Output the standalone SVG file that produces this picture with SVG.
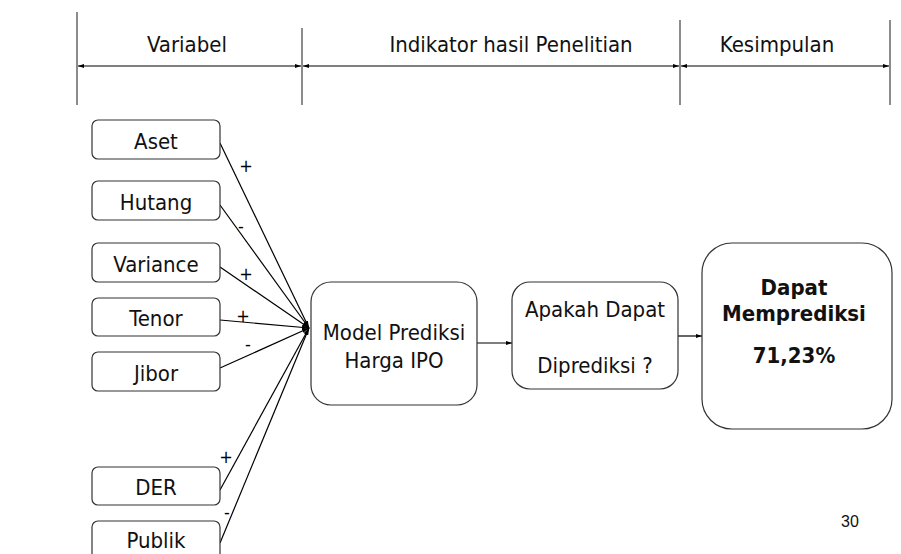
<svg xmlns="http://www.w3.org/2000/svg" width="901" height="554" viewBox="0 0 901 554">
<defs>
<style>
.t{font-family:"DejaVu Sans Condensed","DejaVu Sans",sans-serif;font-stretch:condensed;fill:#111;text-anchor:middle}
.h{font-size:22px}
.n{font-size:22px}
.b{font-family:"DejaVu Sans Condensed","DejaVu Sans",sans-serif;font-stretch:condensed;font-weight:bold;fill:#111;text-anchor:middle;font-size:22px}
.box{fill:#fff;stroke:#333;stroke-width:1.2}
.ln{stroke:#000;stroke-width:1.2;fill:none}
.vl{stroke:#666;stroke-width:1.5}
.sg{font-family:"DejaVu Sans Condensed","DejaVu Sans",sans-serif;font-size:18px;fill:#000;text-anchor:middle}
</style>
<marker id="ah" viewBox="0 0 10 10" refX="10" refY="5" markerWidth="6" markerHeight="6" orient="auto-start-reverse" markerUnits="userSpaceOnUse">
<path d="M0,1.5 L10,5 L0,8.5 z" fill="#000"/>
</marker>
<marker id="ah2" viewBox="0 0 10 10" refX="10" refY="5" markerWidth="7" markerHeight="7" orient="auto" markerUnits="userSpaceOnUse">
<path d="M0,2 L10,5 L0,8 z" fill="#000"/>
</marker>
</defs>
<rect width="901" height="554" fill="#fff"/>
<g id="header">
<line class="vl" x1="77" y1="12" x2="77" y2="105"/>
<line class="vl" x1="302" y1="28" x2="302" y2="105"/>
<line class="vl" x1="680" y1="20" x2="680" y2="105"/>
<line class="vl" x1="890" y1="20" x2="890" y2="105"/>
<line class="ln" x1="78" y1="66" x2="301" y2="66" marker-start="url(#ah)" marker-end="url(#ah)"/>
<line class="ln" x1="303" y1="66" x2="679" y2="66" marker-start="url(#ah)" marker-end="url(#ah)"/>
<line class="ln" x1="681" y1="66" x2="889" y2="66" marker-start="url(#ah)" marker-end="url(#ah)"/>
<text class="t h" x="187" y="52">Variabel</text>
<text class="t h" x="511" y="52">Indikator hasil Penelitian</text>
<text class="t h" x="777" y="52">Kesimpulan</text>
</g>
<g id="connectors">
<line class="ln" x1="220" y1="143" x2="309" y2="328" marker-end="url(#ah2)"/>
<line class="ln" x1="220" y1="205" x2="309" y2="328" marker-end="url(#ah2)"/>
<line class="ln" x1="220" y1="267" x2="309" y2="328" marker-end="url(#ah2)"/>
<line class="ln" x1="220" y1="320" x2="309" y2="328" marker-end="url(#ah2)"/>
<line class="ln" x1="220" y1="368" x2="309" y2="328" marker-end="url(#ah2)"/>
<line class="ln" x1="220" y1="490" x2="309" y2="328" marker-end="url(#ah2)"/>
<line class="ln" x1="220" y1="543" x2="309" y2="328" marker-end="url(#ah2)"/>
<line class="ln" x1="477" y1="343" x2="512" y2="343" marker-end="url(#ah)"/>
<line class="ln" x1="678" y1="336" x2="702" y2="336" marker-end="url(#ah)"/>
<text class="sg" x="246" y="172">+</text>
<text class="sg" x="241" y="232">-</text>
<text class="sg" x="246" y="280">+</text>
<text class="sg" x="243" y="322">+</text>
<text class="sg" x="248" y="350">-</text>
<text class="sg" x="226" y="463">+</text>
<text class="sg" x="227" y="518">-</text>
</g>
<g id="aset"><rect class="box" x="92" y="120" width="128" height="39" rx="6"/><text class="t n" x="156" y="149">Aset</text></g>
<g id="hutang"><rect class="box" x="92" y="181" width="128" height="39" rx="6"/><text class="t n" x="156" y="210">Hutang</text></g>
<g id="variance"><rect class="box" x="92" y="243" width="128" height="39" rx="6"/><text class="t n" x="156" y="272">Variance</text></g>
<g id="tenor"><rect class="box" x="92" y="298" width="128" height="38" rx="6"/><text class="t n" x="156" y="326">Tenor</text></g>
<g id="jibor"><rect class="box" x="92" y="352" width="128" height="39" rx="6"/><text class="t n" x="156" y="381">Jibor</text></g>
<g id="der"><rect class="box" x="92" y="467" width="128" height="38" rx="6"/><text class="t n" x="156" y="495">DER</text></g>
<g id="publik"><rect class="box" x="92" y="521" width="128" height="40" rx="6"/><text class="t n" x="156" y="548">Publik</text></g>
<g id="model"><rect class="box" x="311" y="282" width="166" height="123" rx="20"/><text class="t n" x="394" y="340">Model Prediksi</text><text class="t n" x="394" y="368">Harga IPO</text></g>
<g id="apakah"><rect class="box" x="512" y="282" width="166" height="107" rx="18"/><text class="t n" x="595" y="317">Apakah Dapat</text><text class="t n" x="595" y="373">Diprediksi ?</text></g>
<g id="dapat"><rect class="box" x="702" y="243" width="190" height="186" rx="30"/><text class="b" x="794" y="295">Dapat</text><text class="b" x="794" y="321">Memprediksi</text><text class="b" x="794" y="363">71,23%</text></g>
<text x="850" y="527" font-family="Liberation Sans, Arial, sans-serif" font-size="16" fill="#111" text-anchor="middle">30</text>
</svg>
